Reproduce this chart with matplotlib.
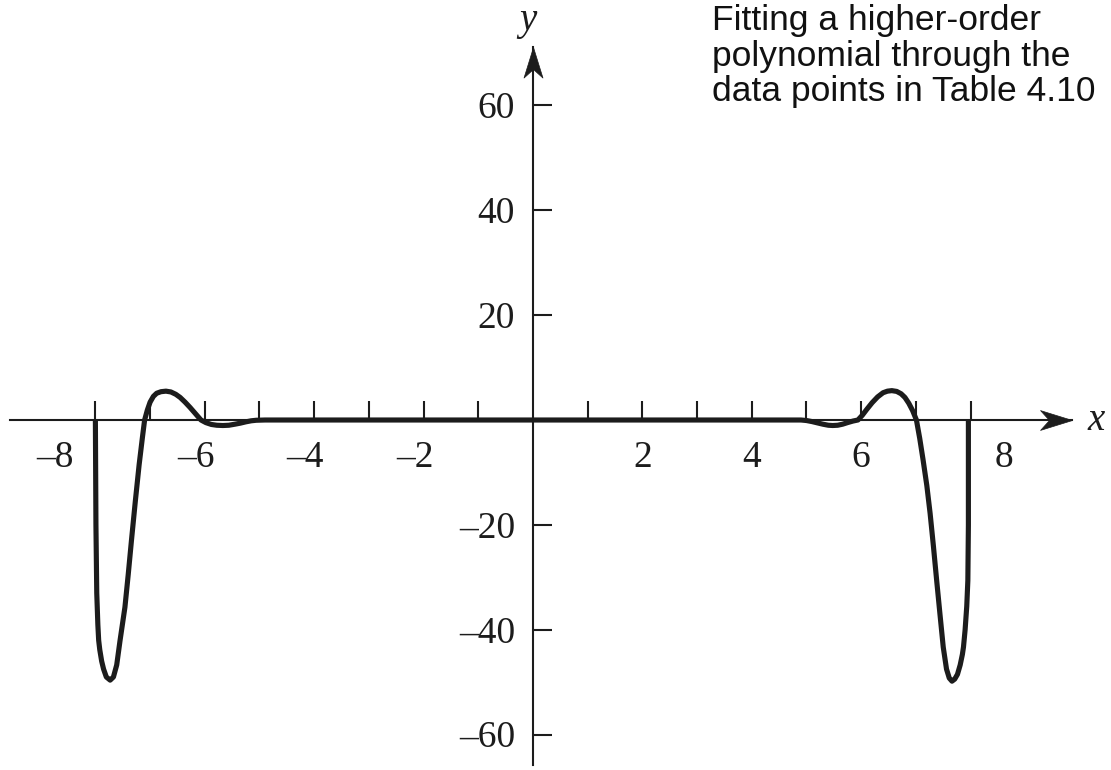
import numpy as np
import matplotlib
matplotlib.use('Agg')
import matplotlib.pyplot as plt
from matplotlib.path import Path

# points along the fitted polynomial, left to right
curve_x = [-8.0, -7.99, -7.975, -7.955, -7.94, -7.92, -7.885, -7.85, -7.8, -7.73,
           -7.67, -7.61, -7.55, -7.46, -7.40, -7.34, -7.27, -7.20, -7.14, -7.10,
           -7.05, -7.0, -6.94, -6.88, -6.80, -6.71, -6.62, -6.53, -6.45, -6.36,
           -6.27, -6.17, -6.07, -5.98, -5.88, -5.78, -5.67, -5.56, -5.45, -5.35,
           -5.25, -5.15, -5.06, -4.9, -4.0, -3.0, -2.0, -1.0, 0.0, 1.0, 2.0, 3.0,
           4.0, 4.9, 5.0, 5.1, 5.2, 5.3, 5.4, 5.48, 5.57, 5.66, 5.75, 5.85, 5.94,
           6.02, 6.1, 6.2, 6.3, 6.4, 6.48, 6.56, 6.65, 6.73, 6.8, 6.87, 6.94,
           7.01, 7.07, 7.13, 7.2, 7.26, 7.32, 7.38, 7.44, 7.5, 7.56, 7.61, 7.66,
           7.71, 7.76, 7.81, 7.85, 7.87, 7.9, 7.93, 7.95, 7.96, 7.96]
curve_y = [0.0, -20.0, -33.0, -39.0, -42.0, -43.8, -46.0, -47.5, -49.0, -49.6,
           -49.0, -46.7, -42.1, -35.7, -29.5, -22.9, -15.5, -8.5, -3.3, 0.0,
           1.9, 3.4, 4.5, 5.1, 5.4, 5.5, 5.35, 4.9, 4.3, 3.4,
           2.4, 1.2, 0.0, -0.5, -0.85, -1.0, -1.05, -1.0, -0.8, -0.6,
           -0.35, -0.15, -0.05, 0.0, 0.0, 0.0, 0.0, 0.0, 0.0, 0.0, 0.0, 0.0,
           0.0, 0.0, -0.1, -0.3, -0.55, -0.8, -1.0, -1.05, -1.0, -0.8, -0.5, -0.2, 0.0,
           0.9, 2.0, 3.3, 4.4, 5.2, 5.5, 5.6, 5.45, 5.0, 4.3, 3.2, 1.8,
           0.0, -3.5, -7.5, -12.5, -17.8, -24.0, -30.6, -37.0, -43.3, -47.5, -49.2, -49.8,
           -49.4, -48.5, -46.7, -44.7, -43.3, -40.0, -35.5, -30.6, -20.0, 0.0]

x_ticks = [-8, -7, -6, -5, -4, -3, -2, -1, 1, 2, 3, 4, 5, 6, 7, 8]
x_labels = [-8, -6, -4, -2, 2, 4, 6, 8]
y_ticks = [-60, -40, -20, 20, 40, 60]
note = "Fitting a higher-order\npolynomial through the\ndata points in Table 4.10"

ink = '#1c1c1c'
serif = ['Liberation Serif', 'DejaVu Serif']

fig = plt.figure(figsize=(11.11, 7.7), dpi=100)
ax = fig.add_axes([10 / 1111, 5 / 770, 1062 / 1111, 718 / 770])
ax.set_xlim(-9.561, 9.854)
ax.set_ylim(-65.78, 71.12)

# axes through the origin, ticks pointing inwards
for side in ['top', 'right']:
    ax.spines[side].set_visible(False)
for side in ['left', 'bottom']:
    ax.spines[side].set_position('zero')
    ax.spines[side].set_linewidth(1.5)
    ax.spines[side].set_color(ink)
ax.set_xticks(x_ticks)
ax.set_yticks(y_ticks)
ax.tick_params(direction='in', length=14, width=1.5, color=ink,
               labelbottom=False, labelleft=False)

# barbed arrow heads at the positive ends
head_x = Path([(0, 0), (-1, 0.31), (-0.72, 0), (-1, -0.31), (0, 0)],
              [Path.MOVETO, Path.LINETO, Path.LINETO, Path.LINETO, Path.CLOSEPOLY])
head_y = Path([(0, 0), (0.31, -1), (0, -0.72), (-0.31, -1), (0, 0)],
              [Path.MOVETO, Path.LINETO, Path.LINETO, Path.LINETO, Path.CLOSEPOLY])
ax.plot([1], [0], marker=head_x, markersize=46, color=ink, mew=0.5,
        transform=ax.get_yaxis_transform(), clip_on=False)
ax.plot([0], [1], marker=head_y, markersize=44, color=ink, mew=0.5,
        transform=ax.get_xaxis_transform(), clip_on=False)

ax.plot(curve_x, curve_y, color=ink, lw=3.7, solid_joinstyle='round',
        solid_capstyle='butt')


def fmt(v):
    return ('\u2013' if v < 0 else '') + str(abs(v))


for v in x_labels:
    if v == -8:
        dx, ha = -16, 'right'
    elif v == 8:
        dx, ha = 24, 'center'
    elif v < 0:
        dx, ha = 7, 'right'
    else:
        dx, ha = 0, 'center'
    ax.annotate(fmt(v), (v, 0), xytext=(dx, -27), textcoords='offset points',
                ha=ha, va='center', fontsize=27, family=serif, color=ink,
                annotation_clip=False)

for v in y_ticks:
    ax.annotate(fmt(v), (0, v), xytext=(-13, -2.5), textcoords='offset points',
                ha='right', va='center', fontsize=27, family=serif, color=ink,
                annotation_clip=False)

ax.text(-0.1, 74.4, 'y', ha='center', va='baseline', fontsize=28,
        family=serif, style='italic', color=ink, clip_on=False)
ax.text(10.3, -1.9, 'x', ha='center', va='baseline', fontsize=28,
        family=serif, style='italic', color=ink, clip_on=False)

fig.text(712 / 1111, 1 - 4 / 770, note, ha='left', va='top', fontsize=25.5,
         family=['Liberation Sans', 'DejaVu Sans'], color='#111111',
         linespacing=1.1)

fig.savefig('out.png', dpi=100)
